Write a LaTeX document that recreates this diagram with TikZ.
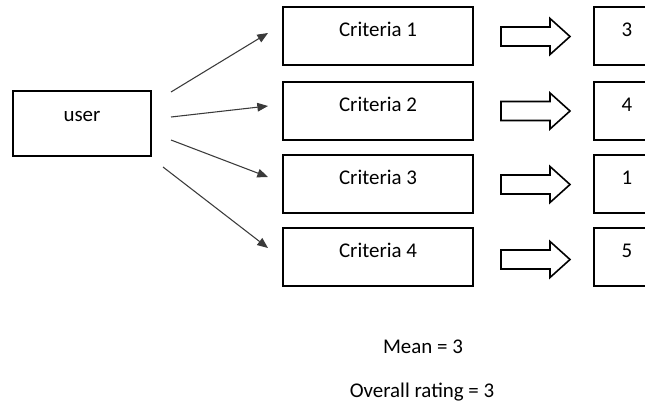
\documentclass[tikz,border=0pt]{standalone}
\usepackage{fontspec}
\setmainfont{Carlito}
\usetikzlibrary{calc,arrows.meta}
\definecolor{boxline}{HTML}{000000}
\definecolor{linkgray}{HTML}{3A3A3A}

\begin{document}
\begin{tikzpicture}[
        x=0.75pt, y=-0.75pt,
        every node/.style={font=\fontsize{15.7}{19}\selectfont},
        box/.style={draw=boxline, line width=1.3pt, inner sep=0pt, fill=white},
        critbox/.style={box, minimum width=142.5pt, minimum height=43.5pt,
          text height=11pt, text depth=10pt},
        scorebox/.style={box, minimum width=49.5pt, minimum height=43.5pt,
          text height=11pt, text depth=10pt},
        link/.style={draw=linkgray, line width=0.8pt,
          -{Triangle[length=8pt,width=6.5pt]}},
        blockarrow/.style={draw=boxline, line width=1.2pt, fill=white,
          line join=miter},
      ]
      \clip (0,0) rectangle (645,404);

      % User box, text sits near the top
      \node[box, minimum width=103.5pt, minimum height=48.75pt,
        text height=8pt, text depth=10.3pt] (user) at (82,123.5) {user};

      % Criteria boxes and their scores
      \node[critbox] (crit1) at (378,36) {Criteria 1};
      \node[critbox] (crit2) at (378,111) {Criteria 2};
      \node[critbox] (crit3) at (378,184) {Criteria 3};
      \node[critbox] (crit4) at (378,257) {Criteria 4};

      \node[scorebox] (score1) at (627,36) {3};
      \node[scorebox] (score2) at (627,111) {4};
      \node[scorebox] (score3) at (627,184) {1};
      \node[scorebox] (score4) at (627,257) {5};

      % Free ends of the links
      \coordinate (out1) at (171,92);
      \coordinate (out2) at (171,117);
      \coordinate (out3) at (171,140);
      \coordinate (out4) at (163,167);
      \coordinate (in1) at (268,33);
      \coordinate (in2) at (268,106);
      \coordinate (in3) at (268,177);
      \coordinate (in4) at (268,248);

      \foreach \i in {1,...,4}
        \draw[link] (out\i) -- (in\i);

      % Block arrows between criteria and scores
      \foreach \yc in {36.5,111,184.5,259.5}
        \draw[blockarrow] (501,\yc-9.5) -- (550,\yc-9.5) -- (550,\yc-18)
          -- (570,\yc) -- (550,\yc+18) -- (550,\yc+9.5) -- (501,\yc+9.5) -- cycle;

      % Summary
      \node (mean) at (423,347) {Mean = 3};
      \node (overall) at (422,392) {Overall rating = 3};
    \end{tikzpicture}
\end{document}
